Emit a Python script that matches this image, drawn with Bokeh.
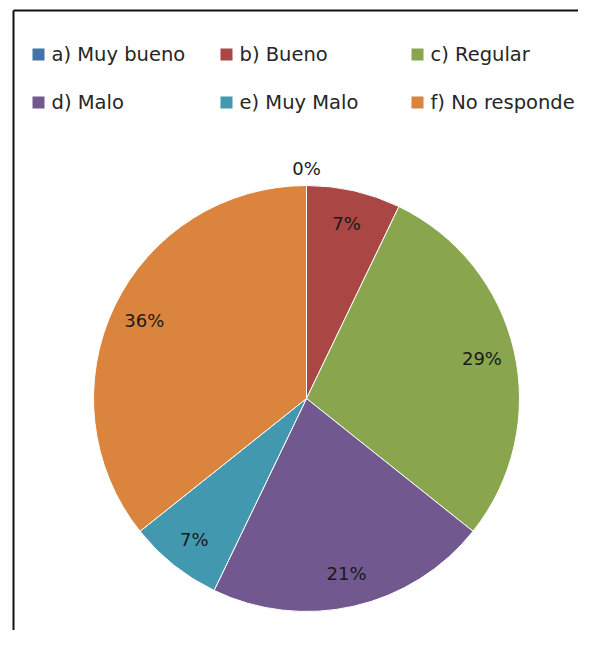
import numpy as np
from bokeh.plotting import figure
from bokeh.models import Range1d, ColumnDataSource
from bokeh.core.properties import value
from bokeh.embed import file_html
from bokeh.resources import INLINE

categories = ["a) Muy bueno", "b) Bueno", "c) Regular", "d) Malo", "e) Muy Malo", "f) No responde"]
counts = [0, 2, 8, 6, 2, 10]
colors = ["#4572A7", "#AA4643", "#89A54E", "#71588F", "#4198AF", "#DB843D"]

W, H = 578, 630
FONT = "DejaVu Sans"

p = figure(width=W, height=H, output_backend="svg", toolbar_location=None,
           x_range=Range1d(0, W), y_range=Range1d(0, H),
           min_border=0, match_aspect=False)
p.axis.visible = False
p.grid.visible = False
p.outline_line_color = None
p.background_fill_color = "white"
p.border_fill_color = "white"

def Y(py):
    return H - py

# chart border (cropped at right/bottom)
p.line([13, 13], [Y(10), Y(700)], line_color="#111111", line_width=2)
p.line([13, 700], [Y(10), Y(10)], line_color="#111111", line_width=2)

vals = np.array(counts, dtype=float)
frac = vals / vals.sum()
cum_end = np.cumsum(frac)
cum_start = cum_end - frac
start = np.pi / 2 - cum_start * 2 * np.pi
end = np.pi / 2 - cum_end * 2 * np.pi

cx, cy, R = 306, Y(398), 213
mask = vals > 0
src = ColumnDataSource(dict(start=start[mask], end=end[mask],
                            color=[c for c, m in zip(colors, mask) if m]))
p.wedge(x=cx, y=cy, radius=R, start_angle="start", end_angle="end",
        direction="clock", fill_color="color", line_color="white",
        line_width=1, source=src)

# data labels
mid = (start + end) / 2
lr = np.where(vals > 0, R * 0.845, R * 1.08)
lx = cx + lr * np.cos(mid)
ly = cy + lr * np.sin(mid)
labels = [f"{round(f * 100):.0f}%" for f in frac]
p.text(x=lx, y=ly, text=labels, text_align="center", text_baseline="middle",
       text_font=value(FONT), text_font_size="18px", text_color="#1a1a1a")

# legend
col_x = [32, 220, 411]
row_y = [54, 102]
sq = 12
lgx, lgy, tx = [], [], []
for i in range(len(categories)):
    r, c = divmod(i, 3)
    lgx.append(col_x[c] + sq / 2)
    lgy.append(Y(row_y[r]))
    tx.append(col_x[c] + 19)
p.rect(x=lgx, y=lgy, width=sq, height=sq, fill_color=colors, line_color=None)
p.text(x=tx, y=lgy, text=categories, text_align="left", text_baseline="middle",
       text_font=value(FONT), text_font_size="19.5px", text_color="#262626")

open("out.html", "w").write(file_html(p, INLINE))
